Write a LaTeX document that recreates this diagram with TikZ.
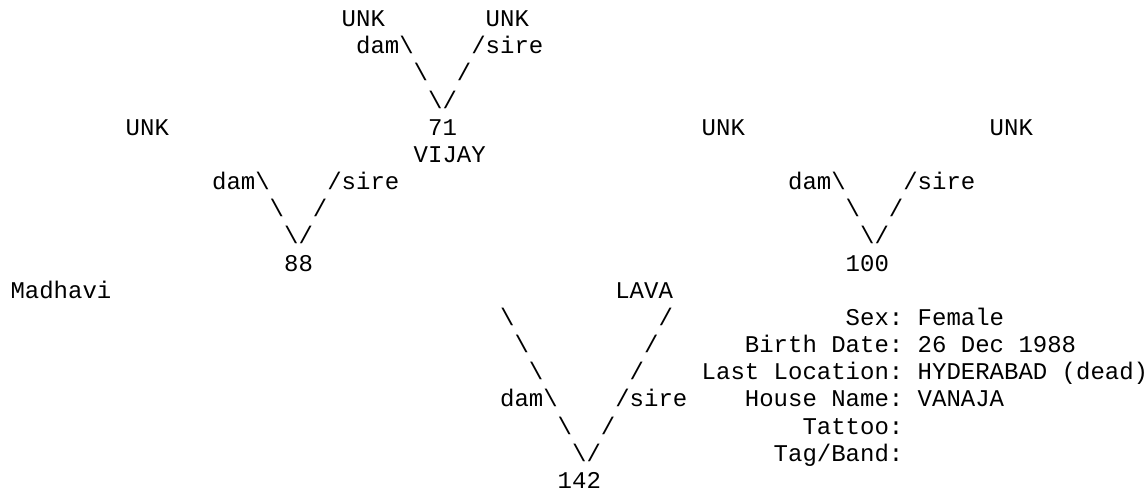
\documentclass[tikz,border=0pt]{standalone}
\usepackage{fontspec}
\setmonofont{Liberation Mono}
\tikzset{asc/.style={anchor=base west, inner sep=0pt, outer sep=0pt, font=\fontsize{24}{27}\selectfont\ttfamily, text=black}}
\newcommand\asc[4]{\node[asc] (#1) at ({10.5+14.4*#2},{463.4-27.17*(#3-1)}) {#4};}
\newcommand\bs{\textbackslash}
\begin{document}
\begin{tikzpicture}[x=1pt,y=1pt]
\useasboundingbox (0,0) rectangle (1147,490);
% line 1-4: parents of 71
\asc{unkA}{23}{1}{UNK}
\asc{unkB}{33}{1}{UNK}
\asc{damA}{24}{2}{dam\bs}
\asc{sireA}{32}{2}{/sire}
\asc{bsA}{28}{3}{\bs}
\asc{fsA}{31}{3}{/}
\asc{vA}{29}{4}{\bs/}
% line 5-6
\asc{unkC}{8}{5}{UNK}
\asc{n71}{29}{5}{71}
\asc{unkD}{48}{5}{UNK}
\asc{unkE}{68}{5}{UNK}
\asc{vijay}{28}{6}{VIJAY}
% line 7-10
\asc{damB}{14}{7}{dam\bs}
\asc{sireB}{22}{7}{/sire}
\asc{damC}{54}{7}{dam\bs}
\asc{sireC}{62}{7}{/sire}
\asc{bsB}{18}{8}{\bs}
\asc{fsB}{21}{8}{/}
\asc{bsC}{58}{8}{\bs}
\asc{fsC}{61}{8}{/}
\asc{vB}{19}{9}{\bs/}
\asc{vC}{59}{9}{\bs/}
\asc{n88}{19}{10}{88}
\asc{n100}{58}{10}{100}
% line 11-18
\asc{madhavi}{0}{11}{Madhavi}
\asc{lava}{42}{11}{LAVA}
\asc{bsD1}{34}{12}{\bs}
\asc{fsD1}{45}{12}{/}
\asc{sex}{58}{12}{Sex: Female}
\asc{bsD2}{35}{13}{\bs}
\asc{fsD2}{44}{13}{/}
\asc{birth}{51}{13}{Birth Date: 26 Dec 1988}
\asc{bsD3}{36}{14}{\bs}
\asc{fsD3}{43}{14}{/}
\asc{loc}{48}{14}{Last Location: HYDERABAD (dead)}
\asc{damD}{34}{15}{dam\bs}
\asc{sireD}{42}{15}{/sire}
\asc{house}{51}{15}{House Name: VANAJA}
\asc{bsD4}{38}{16}{\bs}
\asc{fsD4}{41}{16}{/}
\asc{tattoo}{55}{16}{Tattoo:}
\asc{vD}{39}{17}{\bs/}
\asc{tag}{53}{17}{Tag/Band:}
\asc{n142}{38}{18}{142}
\end{tikzpicture}
\end{document}
